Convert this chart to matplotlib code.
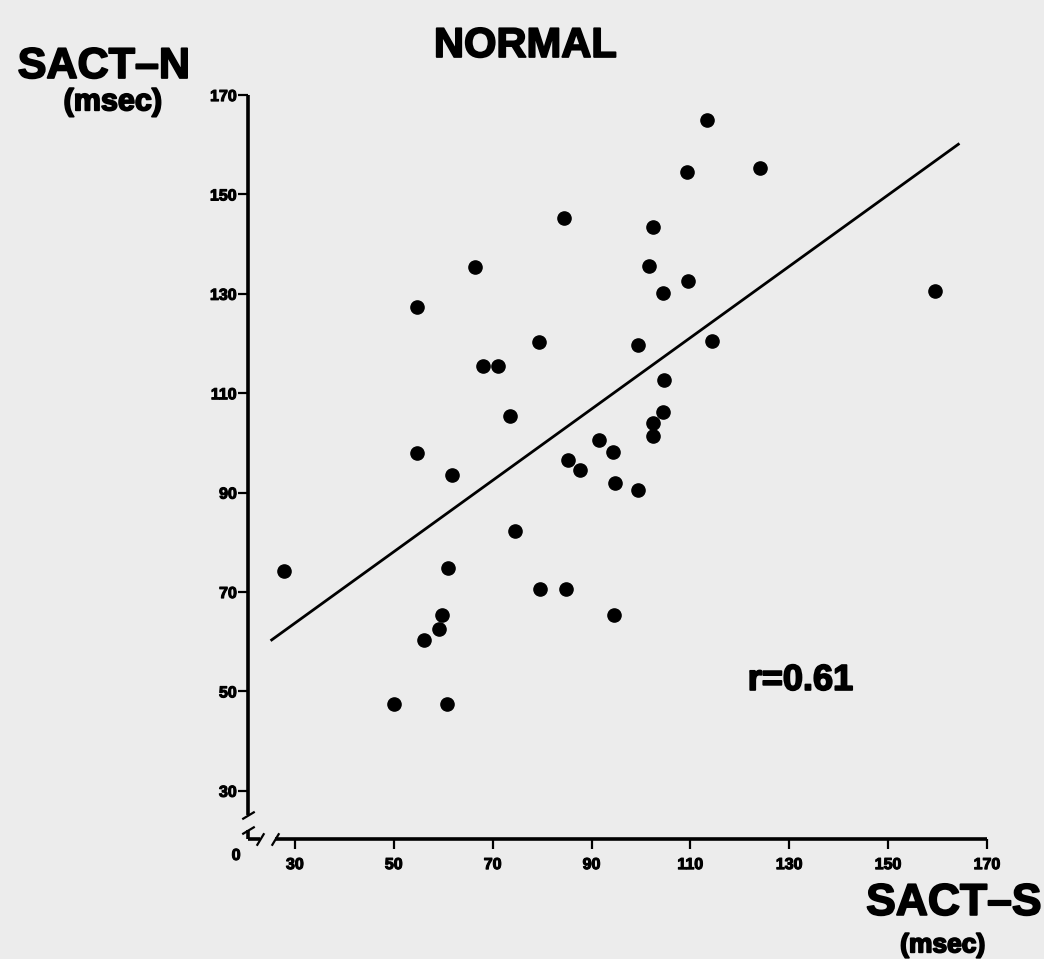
import matplotlib
matplotlib.use("Agg")
import matplotlib.pyplot as plt
import matplotlib.patheffects as pe
import numpy as np

# SACT-S (x) vs SACT-N (y), msec
sact_s = [66.4, 54.6, 68.1, 71.1, 113.3, 109.4, 84.4, 102.5, 101.6, 109.6,
          104.4, 79.4, 99.5, 114.4, 104.7, 104.5, 73.5, 124.1, 159.5, 54.7,
          61.7, 27.8, 61.0, 59.7, 59.1, 56.1, 50.0, 60.7, 102.5, 102.5,
          91.5, 94.3, 85.3, 87.7, 94.7, 99.5, 74.5, 79.6, 84.8, 94.6]
sact_n = [135.3, 127.4, 115.4, 115.4, 165.0, 154.6, 145.3, 143.5, 135.5, 132.5,
          130.1, 120.4, 119.7, 120.6, 112.7, 106.3, 105.4, 155.4, 130.6, 97.9,
          93.6, 74.3, 74.8, 65.4, 62.5, 60.4, 47.5, 47.5, 104.0, 101.4,
          100.6, 98.1, 96.6, 94.6, 91.9, 90.6, 82.3, 70.6, 70.6, 65.4]

# regression line as drawn
fit_slope = 0.718
fit_intercept = 42.2
fit_x = [25.3, 164.2]

ticks = [30, 50, 70, 90, 110, 130, 150, 170]
r_text = "r=0.61"

plt.rcParams['font.family'] = ['Liberation Sans', 'DejaVu Sans']
bg = '#ececec'
heavy = [pe.withStroke(linewidth=1.3, foreground='black')]

fig = plt.figure(figsize=(10.44, 9.59), dpi=100, facecolor=bg)
ax = fig.add_axes([0.2375, 0.1251, 0.7079, 0.7758])
ax.set_facecolor('none')

ax.plot(sact_s, sact_n, 'o', color='black', markersize=9.5, zorder=3)
fx = np.array(fit_x)
ax.plot(fx, fit_slope * fx + fit_intercept, color='black', lw=2.0)

ax.set_xlim(20.5, 170)
ax.set_ylim(20.3, 170)
for s in ['top', 'right']:
    ax.spines[s].set_visible(False)
for s in ['left', 'bottom']:
    ax.spines[s].set_linewidth(2.6)
    ax.spines[s].set_capstyle('butt')

ax.set_xticks(ticks)
ax.set_yticks(ticks)
tick_font = dict(family=['Liberation Sans Narrow', 'Liberation Sans'], weight='bold', size=11.5)
ax.set_xticklabels([str(t) for t in ticks], fontdict=tick_font)
ax.set_yticklabels([str(t) for t in ticks], fontdict=tick_font)
for lab in ax.get_xticklabels() + ax.get_yticklabels():
    lab.set_path_effects([pe.withStroke(linewidth=0.8, foreground='black')])
ax.tick_params(axis='x', direction='out', length=7, width=1.6, pad=6)
ax.tick_params(axis='y', direction='out', length=7, width=1.6, pad=1)

# axis breaks near the origin
brk = dict(marker=[(-1, -0.6), (1, 0.6)], markersize=9, linestyle='none',
           color='black', mec='black', mew=1.6, clip_on=False, zorder=5)
ax.add_patch(plt.Rectangle((-0.006, 0.012), 0.012, 0.02, transform=ax.transAxes,
                           facecolor=bg, edgecolor='none', clip_on=False, zorder=4))
ax.plot([0.0, 0.0], [0.012, 0.032], transform=ax.transAxes, **brk)
ax.add_patch(plt.Rectangle((0.016, -0.006), 0.020, 0.012, transform=ax.transAxes,
                           facecolor=bg, edgecolor='none', clip_on=False, zorder=4))
brk2 = dict(brk, marker=[(-0.6, -1), (0.6, 1)])
ax.plot([0.016, 0.036], [0.0, 0.0], transform=ax.transAxes, **brk2)
zero = ax.text(-0.016, -0.012, "0", transform=ax.transAxes, ha='center', va='top',
               fontdict=tick_font, clip_on=False)
zero.set_path_effects([pe.withStroke(linewidth=0.8, foreground='black')])

ax.text(121.6, 50.3, r_text, fontsize=26, fontweight='bold', va='baseline', ha='left',
        path_effects=heavy)

fig.text(0.503, 0.9406, "NORMAL", fontsize=30, fontweight='bold', ha='center', va='baseline',
         path_effects=heavy)
fig.text(0.017, 0.9187, "SACT\u2013N", fontsize=31, fontweight='bold', ha='left', va='baseline',
         path_effects=heavy)
fig.text(0.108, 0.885, "(msec)", fontsize=22, fontweight='bold', ha='center', va='baseline',
         path_effects=heavy)
fig.text(0.998, 0.046, "SACT\u2013S", fontsize=32, fontweight='bold', ha='right', va='baseline',
         path_effects=heavy)
fig.text(0.903, 0.007, "(msec)", fontsize=19, fontweight='bold', ha='center', va='baseline',
         path_effects=heavy)

fig.savefig("out.png", dpi=100, facecolor=fig.get_facecolor())
